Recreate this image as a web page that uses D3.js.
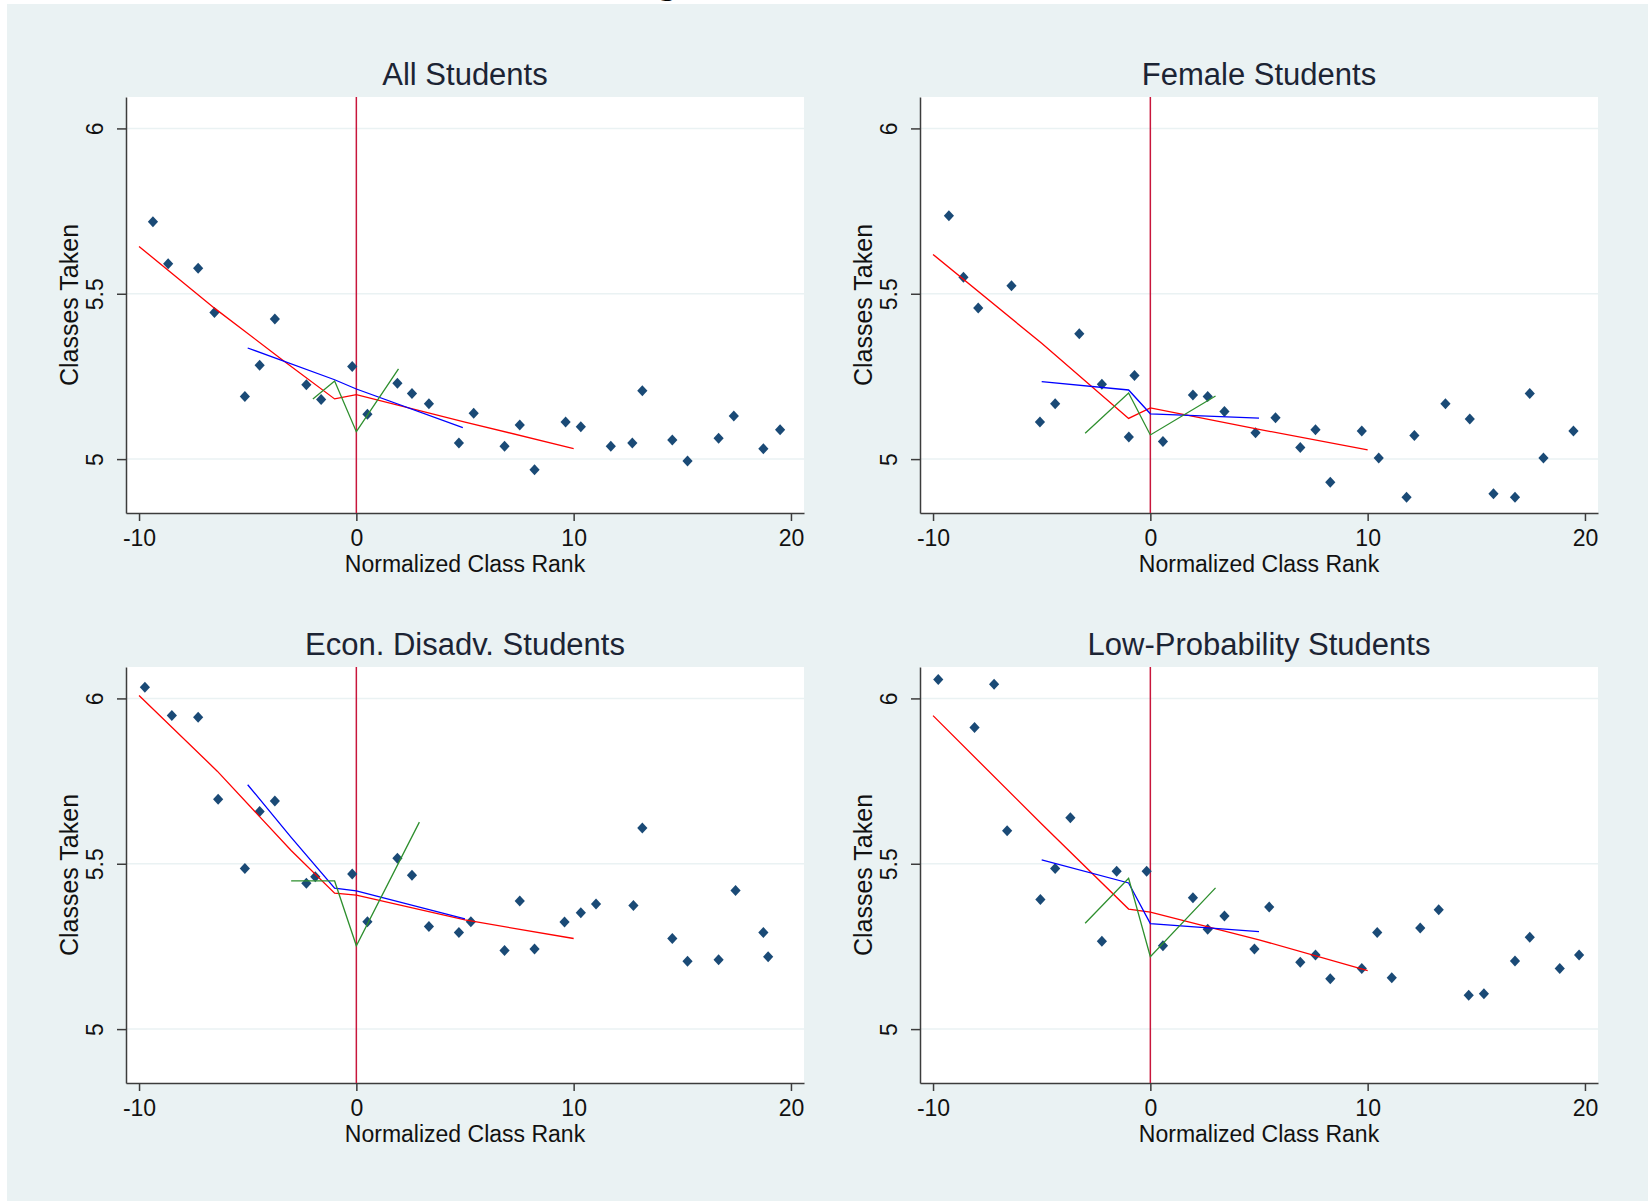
<!DOCTYPE html>
<html>
<head>
<meta charset="utf-8">
<script src="https://cdn.jsdelivr.net/npm/d3@7"></script>
<style>
body { margin: 0; background: #fff; }
text { font-family: Arial, "Liberation Sans", sans-serif; }
</style>
</head>
<body>
<svg id="chart"></svg>
<script>
// values
const titles = ["All Students", "Female Students", "Econ. Disadv. Students", "Low-Probability Students"];
const xTicks = [-10, 0, 10, 20];
const yTicks = [5, 5.5, 6];

const allPts = [[-9.36,5.718],[-8.66,5.591],[-7.28,5.577],[-6.53,5.443],[-5.13,5.189],[-4.45,5.284],[-3.75,5.424],[-2.30,5.225],[-1.62,5.180],[-0.19,5.280],[0.51,5.136],[1.89,5.229],[2.56,5.198],[3.34,5.167],[4.72,5.049],[5.40,5.139],[6.82,5.039],[7.52,5.103],[8.20,4.968],[9.63,5.112],[10.33,5.098],[11.71,5.039],[12.70,5.049],[13.16,5.207],[14.54,5.058],[15.24,4.994],[16.67,5.063],[17.37,5.130],[18.73,5.031],[19.50,5.089]];
const femalePts = [[-9.27,5.736],[-8.60,5.550],[-7.92,5.457],[-6.39,5.524],[-5.08,5.112],[-4.38,5.167],[-3.27,5.379],[-2.23,5.226],[-0.99,5.067],[-0.73,5.253],[0.58,5.053],[1.96,5.194],[2.64,5.189],[3.41,5.144],[4.84,5.080],[5.76,5.125],[6.90,5.035],[7.60,5.089],[8.28,4.930],[9.73,5.085],[10.51,5.003],[11.79,4.885],[12.15,5.071],[13.58,5.167],[14.70,5.121],[15.79,4.895],[16.78,4.885],[17.46,5.198],[18.09,5.003],[19.47,5.085]];
const econPts = [[-9.73,6.034],[-8.49,5.948],[-7.28,5.943],[-6.36,5.695],[-5.13,5.486],[-4.45,5.658],[-3.75,5.690],[-2.30,5.441],[-1.89,5.461],[-0.19,5.469],[0.51,5.325],[1.89,5.517],[2.56,5.465],[3.34,5.310],[4.72,5.292],[5.27,5.325],[6.82,5.238],[7.52,5.387],[8.20,5.242],[9.58,5.324],[10.33,5.352],[11.03,5.378],[12.75,5.374],[13.16,5.608],[14.54,5.274],[15.24,5.205],[16.67,5.210],[17.45,5.419],[18.73,5.292],[18.95,5.219]];
const lowPts = [[-9.76,6.057],[-8.09,5.912],[-7.19,6.043],[-6.59,5.600],[-5.06,5.392],[-4.38,5.486],[-3.68,5.639],[-2.23,5.266],[-1.55,5.477],[-0.17,5.477],[0.58,5.252],[1.96,5.397],[2.64,5.302],[3.41,5.342],[4.79,5.242],[5.47,5.369],[6.90,5.202],[7.60,5.224],[8.28,5.152],[9.73,5.183],[10.44,5.292],[11.11,5.155],[12.42,5.306],[13.27,5.361],[14.65,5.102],[15.35,5.107],[16.78,5.206],[17.46,5.278],[18.84,5.183],[19.73,5.224]];

// fitted lines: red (wide), blue (medium), green (narrow)
const allRed = [[-10,5.643],[-6.5,5.455],[-3.4,5.30],[-1,5.182],[0,5.195],[5,5.112],[10,5.032]];
const allBlue = [[-5,5.336],[-1,5.24],[0,5.212],[4.9,5.095]];
const allGreen = [[-2,5.182],[-1,5.236],[0,5.083],[1.94,5.273]];

const femaleRed = [[-10,5.619],[-5,5.35],[-1,5.123],[0,5.155],[5,5.09],[10,5.028]];
const femaleBlue = [[-5,5.234],[-1,5.209],[0,5.137],[5,5.124]];
const femaleGreen = [[-3,5.078],[-1,5.200],[0,5.073],[3,5.191]];

const econRed = [[-10,6.009],[-6.4,5.78],[-3,5.54],[-1,5.411],[0,5.405],[5,5.33],[10,5.274]];
const econBlue = [[-5,5.739],[-3,5.58],[-1,5.426],[0,5.418],[5,5.333]];
const econGreen = [[-3,5.448],[-1,5.448],[0,5.252],[2.9,5.626]];

const lowRed = [[-10,5.948],[-5,5.62],[-1,5.363],[0,5.354],[5,5.27],[10,5.177]];
const lowBlue = [[-5,5.512],[-1,5.442],[0,5.319],[5,5.295]];
const lowGreen = [[-3,5.320],[-1,5.456],[0,5.219],[3,5.427]];

const panels = [
    { title: titles[0], pts: allPts, red: allRed, blue: allBlue, green: allGreen },
    { title: titles[1], pts: femalePts, red: femaleRed, blue: femaleBlue, green: femaleGreen },
    { title: titles[2], pts: econPts, red: econRed, blue: econBlue, green: econGreen },
    { title: titles[3], pts: lowPts, red: lowRed, blue: lowBlue, green: lowGreen }
];

const svgWidth = 1648;
const svgHeight = 1201;
const plotW = 678;
const plotH = 416;
const bg = "#eaf2f3";

var svg = d3.select("#chart")
    .attr("width", svgWidth)
    .attr("height", svgHeight);

svg.append("rect")
    .attr("x", 7).attr("y", 4)
    .attr("width", svgWidth - 7).attr("height", svgHeight - 4)
    .attr("fill", bg);

// descender of a heading that sits above the cropped area
svg.append("text")
    .attr("x", 668).attr("y", -4)
    .attr("text-anchor", "middle")
    .style("font-family", "'DejaVu Serif', serif")
    .style("font-weight", "bold")
    .style("font-size", "26px")
    .text("g");

var x = d3.scaleLinear().domain([-10.6, 20.6]).range([0, plotW]);
var y = d3.scaleLinear().domain([4.837, 6.095]).range([plotH, 0]);

var line = d3.line().x(d => x(d[0])).y(d => y(d[1]));
var diamond = "M0,-5.5L5.1,0L0,5.5L-5.1,0Z";

panels.forEach(function(p, i) {
    var col = i % 2, row = Math.floor(i / 2);
    var g = svg.append("g")
        .attr("transform", "translate(" + (126 + col * 794) + "," + (97 + row * 570) + ")");

    g.append("rect")
        .attr("width", plotW).attr("height", plotH)
        .attr("fill", "#fff");

    g.selectAll(".grid")
        .data(yTicks)
        .enter()
        .append("line")
        .attr("x1", 0).attr("x2", plotW)
        .attr("y1", d => y(d)).attr("y2", d => y(d))
        .attr("stroke", bg)
        .attr("stroke-width", 1.5);

    var yAxis = g.append("g")
        .call(d3.axisLeft(y).tickValues(yTicks).tickSize(9).tickSizeOuter(0).tickFormat(d => String(d)));
    yAxis.selectAll("text")
        .attr("transform", "rotate(-90)")
        .attr("x", 0).attr("y", -23).attr("dy", 0)
        .style("text-anchor", "middle");

    var xAxis = g.append("g")
        .attr("transform", "translate(0," + plotH + ")")
        .call(d3.axisBottom(x).tickValues(xTicks).tickSize(8).tickSizeOuter(0).tickFormat(d => String(d)));
    xAxis.selectAll("text").attr("y", 33).attr("dy", 0);

    g.selectAll(".domain, .tick line")
        .attr("stroke", "#3c3c3c")
        .attr("stroke-width", 1.5);
    g.selectAll(".tick text")
        .attr("fill", "#111")
        .style("font-size", "23px")
        .style("font-family", "Arial, 'Liberation Sans', sans-serif");

    // cutoff line at zero
    g.append("line")
        .attr("x1", x(0)).attr("x2", x(0))
        .attr("y1", 0).attr("y2", plotH)
        .attr("stroke", "#c8163c")
        .attr("stroke-width", 1.5);

    g.selectAll(".pt")
        .data(p.pts)
        .enter()
        .append("path")
        .attr("d", diamond)
        .attr("transform", d => "translate(" + x(d[0]) + "," + y(d[1]) + ")")
        .attr("fill", "#1a4a76");

    [[p.red, "#ff0000"], [p.blue, "#0000ff"], [p.green, "#2e8f2e"]].forEach(function(s) {
        g.append("path")
            .datum(s[0])
            .attr("d", line)
            .attr("fill", "none")
            .attr("stroke", s[1])
            .attr("stroke-width", 1.3);
    });

    g.append("text")
        .attr("x", plotW / 2).attr("y", -12)
        .attr("text-anchor", "middle")
        .attr("fill", "#1c2434")
        .style("font-size", "31px")
        .text(p.title);

    g.append("text")
        .attr("x", plotW / 2).attr("y", plotH + 59)
        .attr("text-anchor", "middle")
        .attr("fill", "#111")
        .style("font-size", "23px")
        .text("Normalized Class Rank");

    g.append("text")
        .attr("transform", "rotate(-90)")
        .attr("x", -plotH / 2).attr("y", -48)
        .attr("text-anchor", "middle")
        .attr("fill", "#111")
        .style("font-size", "25px")
        .text("Classes Taken");
});
</script>
</body>
</html>
